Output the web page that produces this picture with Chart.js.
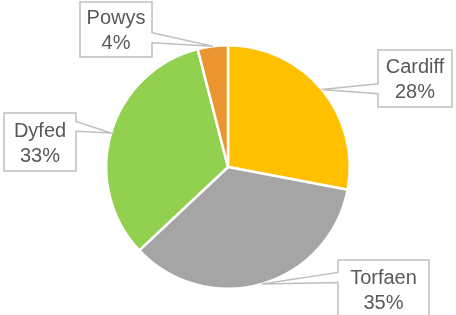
<!DOCTYPE html>
<html>
<head>
<meta charset="utf-8">
<script src="https://cdn.jsdelivr.net/npm/chart.js@4"></script>
<style>
  body { margin: 0; background: #fff; }
  #wrap { width: 456px; height: 315px; }
</style>
</head>
<body>
<div id="wrap"><canvas id="pieChart" width="456" height="315"></canvas></div>
<script>
const regions = ['Cardiff', 'Torfaen', 'Dyfed', 'Powys'];
const shares = [28, 35, 33, 4];
const sliceColours = ['#FFC000', '#A5A5A5', '#92D050', '#EB9530'];

// callout boxes, placed by hand like the excel ones (base = where the wedge leaves the box, 0..1 of height)
const calloutBoxes = [
  { x: 378, y: 50, w: 74, h: 57, base: 0.68 },
  { x: 338, y: 260, w: 91, h: 58, base: 0.3 },
  { x: 4, y: 113, w: 72, h: 58, base: 0.23 },
  { x: 80, y: 2, w: 72, h: 55, base: 0.65 }
];

const calloutPlugin = {
  id: 'callouts',
  afterDatasetsDraw(chart) {
    const ctx = chart.ctx;
    const arcs = chart.getDatasetMeta(0).data;
    ctx.save();
    arcs.forEach((arc, i) => {
      const p = arc.getProps(['x', 'y', 'startAngle', 'endAngle', 'outerRadius'], true);
      const mid = (p.startAngle + p.endAngle) / 2;
      const tx = p.x + Math.cos(mid) * p.outerRadius;
      const ty = p.y + Math.sin(mid) * p.outerRadius;
      const b = calloutBoxes[i];
      const by = b.y + b.h * b.base;
      const half = 5;

      ctx.beginPath();
      if (tx < b.x) {
        ctx.moveTo(b.x, b.y);
        ctx.lineTo(b.x + b.w, b.y);
        ctx.lineTo(b.x + b.w, b.y + b.h);
        ctx.lineTo(b.x, b.y + b.h);
        ctx.lineTo(b.x, by + half);
        ctx.lineTo(tx, ty);
        ctx.lineTo(b.x, by - half);
      } else {
        ctx.moveTo(b.x, b.y);
        ctx.lineTo(b.x + b.w, b.y);
        ctx.lineTo(b.x + b.w, by - half);
        ctx.lineTo(tx, ty);
        ctx.lineTo(b.x + b.w, by + half);
        ctx.lineTo(b.x + b.w, b.y + b.h);
        ctx.lineTo(b.x, b.y + b.h);
      }
      ctx.closePath();
      ctx.fillStyle = '#ffffff';
      ctx.fill();
      ctx.lineWidth = 1.5;
      ctx.strokeStyle = '#BFBFBF';
      ctx.stroke();

      ctx.fillStyle = '#595959';
      ctx.font = '20px "Liberation Sans", Arial, sans-serif';
      ctx.textAlign = 'center';
      ctx.textBaseline = 'middle';
      const cx = b.x + b.w / 2;
      const cy = b.y + b.h / 2;
      ctx.fillText(regions[i], cx, cy - 11);
      ctx.fillText(shares[i] + '%', cx, cy + 14);
    });
    ctx.restore();
  }
};

new Chart(document.getElementById('pieChart'), {
  type: 'pie',
  data: {
    labels: regions,
    datasets: [{
      data: shares,
      backgroundColor: sliceColours,
      borderColor: '#ffffff',
      borderWidth: 2.5
    }]
  },
  options: {
    responsive: false,
    animation: false,
    events: [],
    layout: { padding: { top: 44, bottom: 25 } },
    plugins: {
      legend: { display: false },
      tooltip: { enabled: false }
    }
  },
  plugins: [calloutPlugin]
});
</script>
</body>
</html>
